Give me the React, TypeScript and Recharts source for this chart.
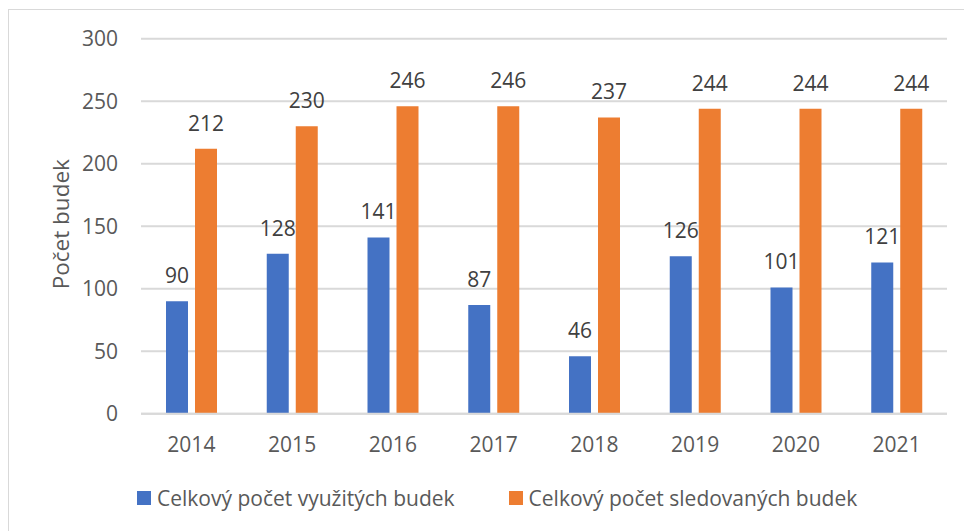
import React from 'react';
import { BarChart, Bar, XAxis, YAxis, CartesianGrid, Legend, LabelList } from 'recharts';

const years = ['2014', '2015', '2016', '2017', '2018', '2019', '2020', '2021'];
const usedBoxes = [90, 128, 141, 87, 46, 126, 101, 121];
const monitoredBoxes = [212, 230, 246, 246, 237, 244, 244, 244];
const yTicks = [0, 50, 100, 150, 200, 250, 300];
const seriesNames = ['Celkový počet využitých budek', 'Celkový počet sledovaných budek'];
const yAxisTitle = 'Počet budek';

const data = years.map((y, i) => ({ year: y, used: usedBoxes[i], monitored: monitoredBoxes[i] }));

const FONT = '"Open Sans", sans-serif';
const TICK_COLOR = '#595959';
const LABEL_COLOR = '#404040';

const renderLegend = (props: any) => {
  const payload = [...(props.payload || [])].sort(
    (a: any, b: any) => seriesNames.indexOf(a.value) - seriesNames.indexOf(b.value)
  );
  return (
    <div style={{ display: 'flex', alignItems: 'center', paddingLeft: 137, fontFamily: FONT, fontSize: 21, color: TICK_COLOR }}>
      {payload.map((p: any, i: number) => (
        <div key={i} style={{ display: 'flex', alignItems: 'center', marginRight: i === 0 ? 54 : 0 }}>
          <span style={{ display: 'inline-block', width: 14, height: 14, background: p.color, marginRight: 6 }} />
          <span>{p.value}</span>
        </div>
      ))}
    </div>
  );
};

const YTitle = (props: any) => {
  const vb = props.viewBox || {};
  const cx = vb.x + 28;
  const cy = vb.y + vb.height / 2 - 2;
  return (
    <text
      x={cx}
      y={cy}
      transform={`rotate(-90 ${cx} ${cy})`}
      textAnchor="middle"
      fill={TICK_COLOR}
      style={{ fontFamily: FONT, fontSize: 22.5 }}
    >
      {yAxisTitle}
    </text>
  );
};

export default function App() {
  return (
    <div style={{ position: 'absolute', left: 0, top: 0, width: 964, height: 531, overflow: 'hidden', background: '#fff' }}>
      <div style={{ position: 'absolute', left: 8, top: 9, width: 1000, height: 600, border: '1.5px solid #d9d9d9' }} />
      <div style={{ position: 'absolute', left: 0, top: 0 }}>
        <BarChart
          width={964}
          height={531}
          data={data}
          margin={{ top: 38.7, right: 17, bottom: 77.3, left: 41 }}
          barSize={22}
          barGap={7}
        >
          <CartesianGrid vertical={false} stroke="#d9d9d9" strokeWidth={2} />
          <XAxis
            dataKey="year"
            height={40}
            axisLine={{ stroke: '#d9d9d9', strokeWidth: 2 }}
            tickLine={false}
            tickSize={0}
            tickMargin={23}
            tick={{ fill: TICK_COLOR, fontSize: 21, fontFamily: FONT }}
          />
          <YAxis
            width={100}
            domain={[0, 300]}
            ticks={yTicks}
            axisLine={false}
            tickLine={false}
            tickSize={0}
            tickMargin={23}
            tick={{ fill: TICK_COLOR, fontSize: 21, fontFamily: FONT }}
            label={{ content: (p: any) => <YTitle {...p} /> }}
          />
          <Legend
            layout="horizontal"
            verticalAlign="middle"
            align="center"
            content={renderLegend}
            wrapperStyle={{ top: 484, left: 0, width: 964 }}
          />
          <Bar dataKey="used" name={seriesNames[0]} fill="#4472C4" isAnimationActive={false}>
            <LabelList dataKey="used" position="top" offset={18} fill={LABEL_COLOR} style={{ fontSize: 21, fontFamily: FONT }} />
          </Bar>
          <Bar dataKey="monitored" name={seriesNames[1]} fill="#ED7D31" isAnimationActive={false}>
            <LabelList dataKey="monitored" position="top" offset={18} fill={LABEL_COLOR} style={{ fontSize: 21, fontFamily: FONT }} />
          </Bar>
        </BarChart>
      </div>
    </div>
  );
}
